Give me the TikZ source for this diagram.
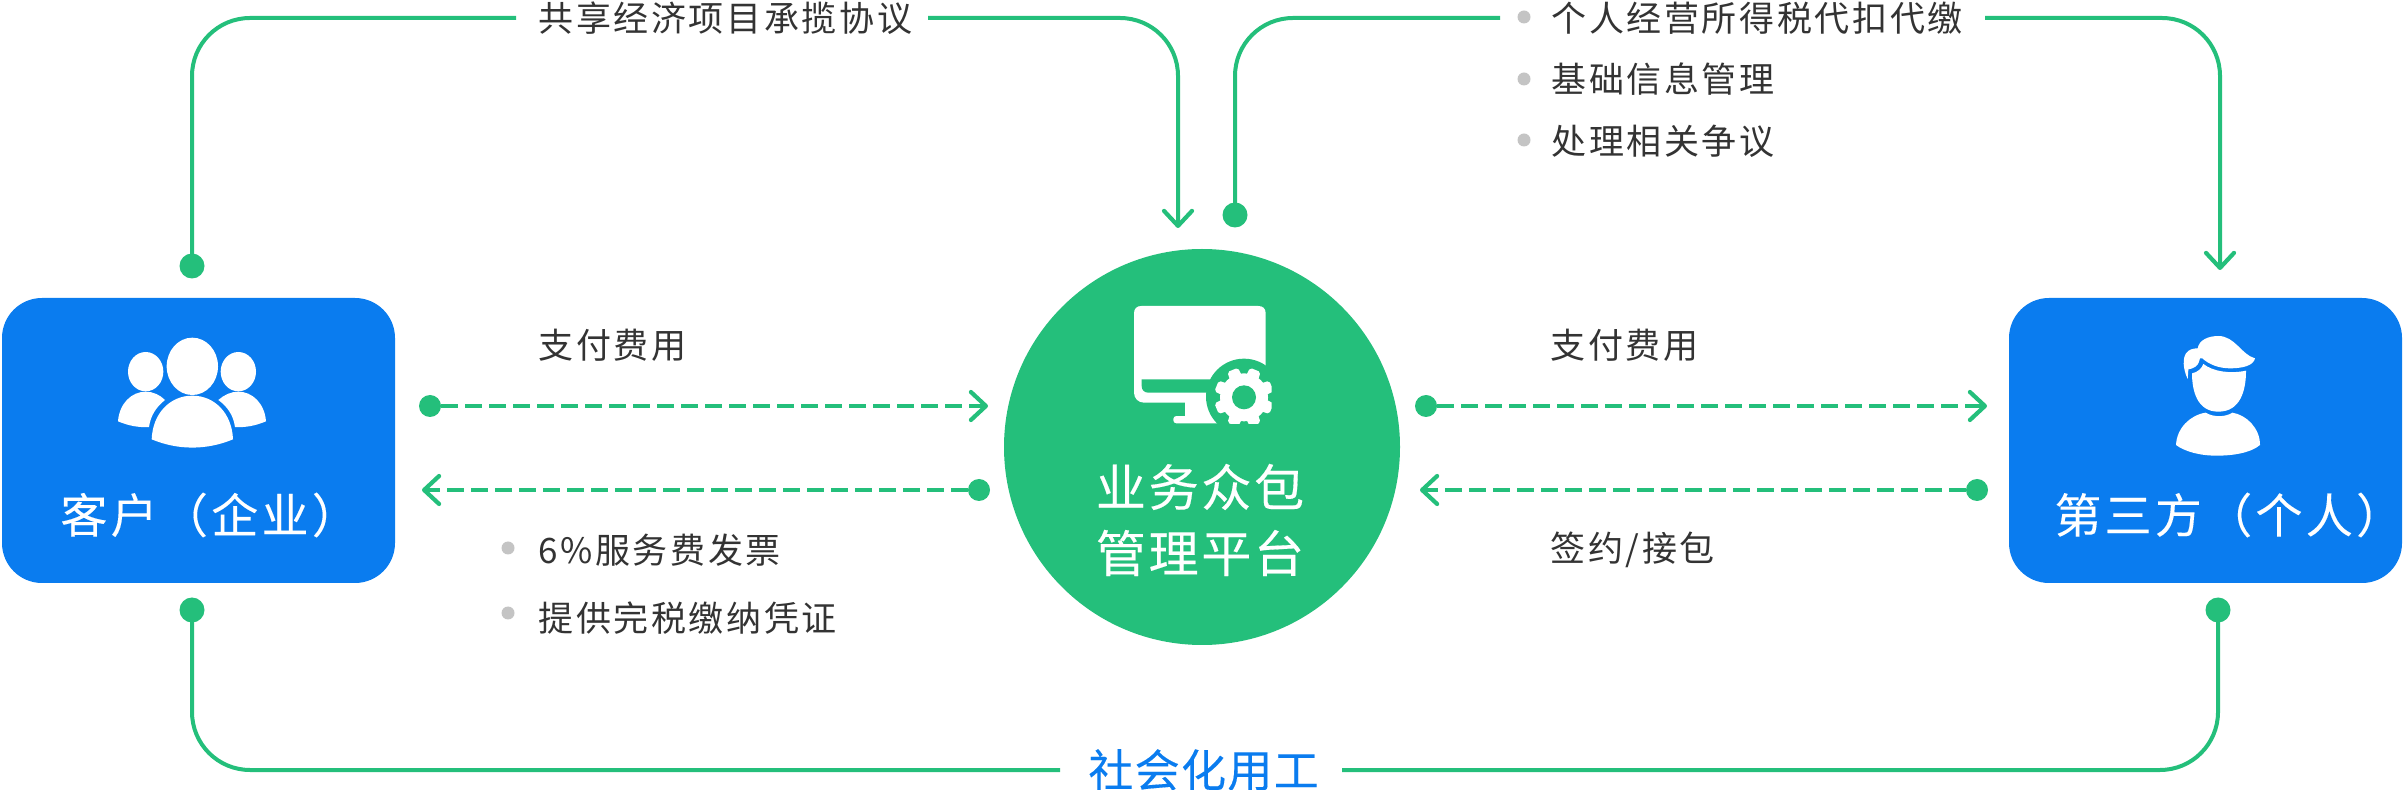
\documentclass[tikz,border=0pt]{standalone}
\usepackage{fontspec}
\usetikzlibrary{arrows.meta}
\setmainfont{Noto Sans CJK SC}
\newfontfamily\cjkA[LetterSpace=7.5]{Noto Sans CJK SC}
\newfontfamily\cjkB[LetterSpace=7,FakeBold=0.12]{Noto Sans CJK SC}
\newfontfamily\cjkC[LetterSpace=5.5,FakeBold=0.3]{Noto Sans CJK SC}
\newfontfamily\cjkD[LetterSpace=3,FakeBold=0.2]{Noto Sans CJK SC}
\definecolor{gr}{HTML}{24BF7B}
\definecolor{bl}{HTML}{0A7CEF}
\definecolor{tx}{HTML}{333333}
\definecolor{bu}{HTML}{C4C4C4}
\tikzset{
  x=0.5pt,y=-0.5pt,
  lab/.style={anchor=west,inner sep=0pt,text=tx,font=\cjkA\fontsize{17.5}{20}\selectfont},
  boxlab/.style={anchor=west,inner sep=0pt,text=white,font=\cjkB\fontsize{23.5}{26}\selectfont},
  midlab/.style={anchor=center,inner sep=0pt,text=white,font=\cjkC\fontsize{25}{28}\selectfont},
  bluebox/.style={fill=bl,rounded corners=20pt,minimum width=196.5pt,minimum height=142.5pt,inner sep=0pt},
  hub/.style={circle,fill=gr,minimum size=198pt,inner sep=0pt},
  bigdot/.style={circle,fill=gr,minimum size=12.5pt,inner sep=0pt},
  smalldot/.style={circle,fill=gr,minimum size=11pt,inner sep=0pt},
  bullet/.style={circle,fill=bu,minimum size=6.5pt,inner sep=0pt},
  link/.style={draw=gr,line width=2pt,rounded corners=29pt},
  dlink/.style={draw=gr,line width=2.1pt,dash pattern=on 8.25pt off 3.75pt},
  barb/.style={-{Straight Barb[length=7.5pt,width=14pt,line width=2.1pt,round]}},
  zoomed/.style={x=0.166667pt,y=-0.166667pt}
}
\begin{document}
\begin{tikzpicture}
\useasboundingbox (0,0) rectangle (2404,790);
% main shapes
\node[bluebox] (client) at (198.5,440.5) {};
\node[bluebox] (third) at (2205.5,440.5) {};
\node[hub] (platform) at (1202,447) {};
% group icon
\begin{scope}[zoomed,shift={(0pt,-140pt)},fill=white]
  \fill (577,259) ellipse [x radius=77,y radius=86];
  \fill (437,275) ellipse [x radius=53,y radius=59];
  \fill (715,275) ellipse [x radius=53,y radius=59];
  \fill (455,478) .. controls (458,400) and (510,347) .. (577,347) .. controls (644,347) and (696,400) .. (699,478) .. controls (620,511) and (534,511) .. (455,478) -- cycle;
  \fill (354,424) .. controls (358,370) and (395,335) .. (437,335) .. controls (460,335) and (480,345) .. (495,360) .. controls (470,380) and (452,405) .. (447,441) .. controls (415,443) and (385,437) .. (354,424) -- cycle;
  \fill (798,424) .. controls (794,370) and (757,335) .. (715,335) .. controls (692,335) and (672,345) .. (655,360) .. controls (682,380) and (700,405) .. (705,441) .. controls (737,443) and (767,437) .. (798,424) -- cycle;
\end{scope}
% person icon
\begin{scope}[zoomed,shift={(1000pt,-140pt)},fill=white]
  \fill (563,297) .. controls (548,265) and (548,235) .. (558,220) .. controls (566,208) and (580,205) .. (593,205) .. controls (597,180) and (625,168) .. (655,168) .. controls (705,168) and (725,225) .. (765,235) .. controls (760,258) and (725,265) .. (690,265) .. controls (655,265) and (625,252) .. (607,235) .. controls (600,230) and (598,238) .. (597,245) .. controls (594,258) and (580,266) .. (565,268) -- cycle;
  \fill (576,280) .. controls (592,277) and (605,266) .. (610,252) .. controls (640,275) and (690,282) .. (738,272) .. controls (738,330) and (722,395) .. (655,395) .. controls (590,395) and (576,330) .. (576,280) -- cycle;
  \fill (528,495) .. controls (530,445) and (570,405) .. (617,398) .. controls (640,412) and (675,412) .. (697,398) .. controls (740,405) and (780,445) .. (780,495) .. controls (750,520) and (695,527) .. (650,527) .. controls (600,527) and (555,515) .. (528,495) -- cycle;
\end{scope}
% monitor icon
\begin{scope}[zoomed,shift={(500pt,-115pt)}]
  \fill[white] (402,488) -- (402,250) .. controls (402,236) and (410,228) .. (424,228) -- (775,228) .. controls (789,228) and (797,236) .. (797,250) -- (797,518) -- (432,518) .. controls (415,518) and (402,505) .. (402,488) -- cycle;
  \fill[white] (555,510) rectangle (680,570);
  \fill[white,rounded corners=1.5pt] (520,580) -- (520,558) -- (680,558) -- (680,580) -- cycle;
  \fill[gr] (425,448) -- (700,448) -- (700,488) -- (445,488) .. controls (433,488) and (425,480) .. (425,468) -- cycle;
  \fill[gr] (732,500) circle [radius=114];
  \begin{scope}
    \clip (600,380) rectangle (815,580);
    \fill[white] (732,502) circle [radius=72];
    \foreach \a in {22.5,67.5,...,337.5}{
      \fill[white,rotate around={\a:(732,502)},rounded corners=1pt] (732,478) -- (821,485) -- (821,519) -- (732,526) -- cycle;
    }
    \fill[gr] (732,502) circle [radius=36];
  \end{scope}
\end{scope}
% box labels
\node[boxlab] (clientlab) at (60,515) {客户（企业）};
\node[boxlab] (thirdlab) at (2054,515) {第三方（个人）};
\node[midlab] (mid1) at (1200,487) {业务众包};
\node[midlab] (mid2) at (1200,553) {管理平台};
% top labels
\node[lab] (t1) at (538,18) {共享经济项目承揽协议};
\node[lab] (t2) at (1551,18) {个人经营所得税代扣代缴};
\node[lab] (t3) at (1551,79) {基础信息管理};
\node[lab] (t4) at (1551,141) {处理相关争议};
\node[bullet] (b2) at (1524,17) {};
\node[bullet] (b3) at (1524,79) {};
\node[bullet] (b4) at (1524,140) {};
% mid labels
\node[lab] (p1) at (538,345) {支付费用};
\node[lab] (p2) at (1550,345) {支付费用};
\node[lab] (i1) at (538,550) {6\%服务费发票};
\node[lab] (i2) at (538,618) {提供完税缴纳凭证};
\node[bullet] (b5) at (508,548) {};
\node[bullet] (b6) at (508,613) {};
\node[lab] (s1) at (1550,550) {签约/接包};
\node[anchor=west,inner sep=0pt,text=bl,font=\cjkD\fontsize{22.5}{26}\selectfont] (social) at (1088,770) {社会化用工};
% end points
\node[bigdot] (d1) at (192,266) {};
\node[bigdot] (d2) at (1235,215) {};
\node[bigdot] (d3) at (192,610) {};
\node[bigdot] (d4) at (2218,610) {};
\coordinate (a1) at (516,18);
\coordinate (a2) at (928,18);
\coordinate (a3) at (1178,18);
\coordinate (a4) at (1178,228);
\coordinate (b1) at (1235,18);
\coordinate (c1) at (1500,18);
\coordinate (c2) at (1985,18);
\coordinate (c3) at (2220,18);
\coordinate (c4) at (2220,270);
\coordinate (e1) at (192,770);
\coordinate (e2) at (1060,770);
\coordinate (e3) at (1342,770);
\coordinate (e4) at (2218,770);
% solid connectors
\draw[link] (d1.center) -- (192,18) -- (a1);
\draw[link,barb] (a2) -- (a3) -- (a4);
\draw[link] (d2.center) -- (b1) -- (c1);
\draw[link,barb] (c2) -- (c3) -- (c4);
\draw[link] (d3.center) -- (e1) -- (e2);
\draw[link] (e3) -- (e4) -- (d4.center);
% dashed connectors
\node[smalldot] (l1) at (430,406) {};
\node[smalldot] (l2) at (979,490) {};
\node[smalldot] (r1) at (1426,406) {};
\node[smalldot] (r2) at (1977,490) {};
\coordinate (lt1) at (988,406);
\coordinate (lt2) at (422,490);
\coordinate (rt1) at (1987,406);
\coordinate (rt2) at (1420,490);
\draw[dlink,barb] (l1) -- (lt1);
\draw[dlink,barb] (l2) -- (lt2);
\draw[dlink,barb] (r1) -- (rt1);
\draw[dlink,barb] (r2) -- (rt2);
\end{tikzpicture}
\end{document}
